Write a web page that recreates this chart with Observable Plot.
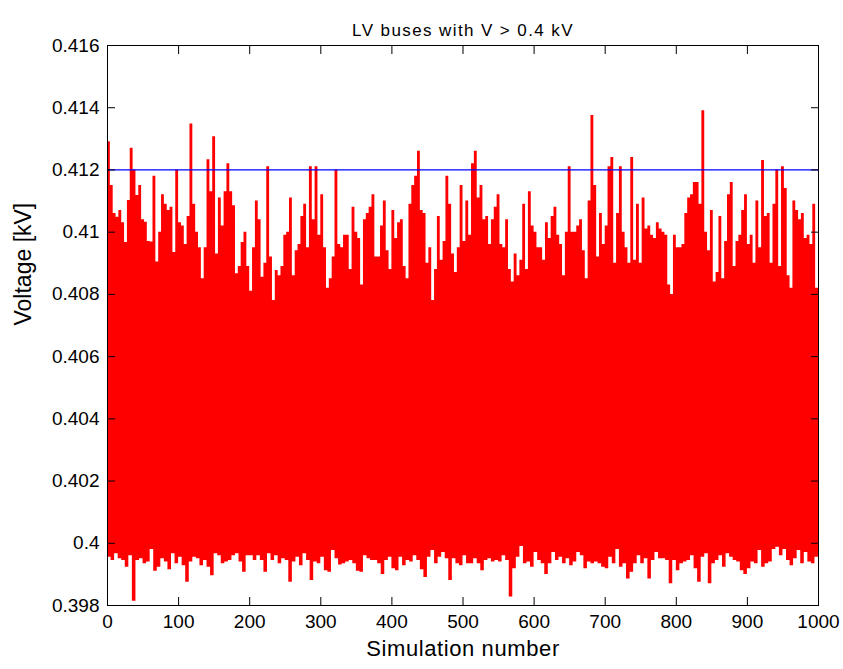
<!DOCTYPE html>
<html>
<head>
<meta charset="utf-8">
<script src="https://cdn.jsdelivr.net/npm/d3@7"></script>
<script src="https://cdn.jsdelivr.net/npm/@observablehq/plot@0.6"></script>
<style>
  html, body { margin: 0; padding: 0; background: #fff; }
</style>
</head>
<body>
<div id="chart"></div>
<script>
const title = "LV buses with V > 0.4 kV";
const xLabel = "Simulation number";
const yLabel = "Voltage [kV]";
const xTicks = [0, 100, 200, 300, 400, 500, 600, 700, 800, 900, 1000];
const yTicks = [0.398, 0.4, 0.402, 0.404, 0.406, 0.408, 0.41, 0.412, 0.414, 0.416];
const xDomain = [0, 1000];
const yDomain = [0.398, 0.416];
const threshold = [0.412];

// Upper envelope of bus voltages (V), one value per block of 4 simulations
const topV = [
412.91,411.5,410.6,410.48,410.7,410.3,409.67,411.02,412.7,412.0,
411.18,411.5,410.4,410.32,409.7,409.68,411.8,409.04,410.0,411.2,
410.9,410.7,410.8,409.35,412.0,410.3,410.2,409.6,410.5,413.48,
410.9,410.0,409.5,408.5,409.5,412.33,411.3,413.07,409.3,411.1,
410.2,411.3,412.2,411.3,410.85,408.66,408.9,409.67,410.0,408.9,
408.1,409.5,411.0,410.4,408.55,409.0,412.1,409.2,407.8,408.77,
408.6,408.9,
409.9,410.0,411.1,408.6,409.4,409.6,410.5,410.9,409.5,412.1,
410.4,412.1,409.9,411.2,409.5,408.2,408.5,409.2,412.0,409.6,
409.5,409.9,409.9,408.8,410.8,410.0,409.8,408.3,410.4,410.6,
410.8,411.2,409.2,409.2,410.2,411.0,409.4,408.8,410.7,409.8,
410.3,410.4,408.9,408.5,410.9,411.5,411.8,412.6,410.7,410.6,
409.0,409.5,407.8,408.8,410.5,409.1,409.7,411.8,410.9,409.3,
408.7,409.5,411.5,
409.7,411.0,409.9,412.2,412.6,411.1,411.5,410.4,410.5,409.6,
410.4,410.8,411.2,409.6,409.5,410.4,408.8,408.4,409.3,408.6,
409.1,410.9,408.8,411.3,410.2,410.0,409.5,409.5,409.1,410.3,
409.8,410.5,410.8,409.9,409.6,408.6,410.0,412.1,410.0,410.0,
410.2,410.4,409.4,408.5,411.0,413.75,411.5,409.2,410.6,409.6,
410.2,412.1,412.4,409.0,410.6,412.1,410.0,409.5,409.0,412.4,
409.1,410.9,409.0,
411.1,410.1,410.2,409.9,409.8,410.3,410.1,410.0,409.9,408.3,
408.0,409.9,409.5,409.5,409.6,410.6,411.1,411.2,411.6,411.6,
410.9,413.9,410.0,409.4,410.7,408.4,408.7,410.5,408.5,409.7,
411.2,411.6,408.9,409.7,409.9,410.7,411.2,409.6,409.9,409.0,
411.0,409.5,412.3,410.5,410.6,409.0,410.9,412.0,408.9,412.1,
411.4,408.6,408.2,411.0,410.7,410.4,410.6,409.8,409.9,409.6,
410.9,408.2
];

// Lower envelope of bus voltages (V), one value per block of 5 simulations
const bottomV = [
399.55,399.45,399.66,399.5,399.45,399.23,399.6,398.14,399.45,399.5,
399.34,399.4,399.8,399.1,399.23,399.5,399.4,399.15,399.66,399.34,
399.55,399.28,398.75,399.4,399.55,399.5,399.28,399.45,399.23,398.96,
399.66,399.6,399.34,399.4,399.45,399.6,399.66,399.4,399.07,399.6,
399.6,399.45,399.6,399.45,399.07,399.66,399.45,399.6,399.34,399.5,
399.45,398.75,399.4,399.55,399.28,399.66,399.45,398.8,399.4,399.34,
399.55,399.12,399.07,399.77,399.5,399.3,
399.34,399.4,399.45,399.34,399.1,399.07,399.6,399.5,399.45,
399.45,399.34,399.0,399.45,399.55,399.18,399.12,399.55,399.28,399.45,
399.4,399.6,399.45,399.15,398.9,399.55,399.77,399.34,399.55,399.7,
399.5,398.8,399.5,399.34,399.28,399.6,399.34,399.34,399.5,399.34,
399.12,399.45,399.5,399.4,399.45,399.4,399.6,399.45,398.27,399.18,
399.55,399.9,399.34,399.4,399.23,399.7,399.45,399.34,399.0,399.34,
399.7,399.45,399.55,399.34,399.5,399.28,
399.4,399.7,399.6,399.18,399.4,399.34,399.4,399.34,399.23,399.18,
399.55,399.34,399.8,399.23,399.34,398.85,399.07,399.34,399.6,399.34,
399.5,398.85,399.45,399.7,399.5,399.5,399.45,398.7,399.45,399.12,
399.34,399.4,399.45,399.6,399.18,398.75,399.55,399.66,398.7,399.34,
399.45,399.6,399.23,399.66,399.55,399.45,399.4,399.12,399.0,399.18,
399.4,399.34,399.77,399.23,399.34,399.4,399.8,399.87,399.6,399.8,
399.45,399.28,399.5,399.77,399.34,399.7,399.4,399.34,399.55
];

function blocks(values) {
  const step = (xDomain[1] - xDomain[0]) / values.length;
  const rows = values.map((v, i) => ({sim: xDomain[0] + i * step, v: v / 1000}));
  rows.push({sim: xDomain[1], v: values[values.length - 1] / 1000});
  return rows;
}
const topData = blocks(topV);
const bottomData = blocks(bottomV);
const mid = (yDomain[0] + yDomain[1]) / 2;

const fmt = d => String(+d.toFixed(3));
const font = "'Liberation Sans', Arial, Helvetica, sans-serif";

const chart = Plot.plot({
  width: 843,
  height: 669,
  marginLeft: 107,
  marginRight: 25,
  marginTop: 45,
  marginBottom: 64,
  style: {fontFamily: font, background: "#fff", color: "#000"},
  x: {domain: xDomain},
  y: {domain: yDomain},
  marks: [
    Plot.areaY(bottomData, {x: "sim", y1: "v", y2: mid, curve: "step-after", fill: "#ff0000"}),
    Plot.areaY(topData, {x: "sim", y1: mid - 0.001, y2: "v", curve: "step-after", fill: "#ff0000"}),
    Plot.ruleY(threshold, {stroke: "#0000ff", strokeWidth: 1.3}),
    Plot.frame({stroke: "#000", strokeWidth: 1}),
    // inward ticks on all four sides
    Plot.axisX({anchor: "bottom", ticks: xTicks, tickSize: 8, dy: -8, tickFormat: () => "", label: null, stroke: "#000"}),
    Plot.axisX({anchor: "top", ticks: xTicks, tickSize: 8, dy: 8, tickFormat: () => "", label: null, stroke: "#000"}),
    Plot.axisY({anchor: "left", ticks: yTicks, tickSize: 8, dx: 8, tickFormat: () => "", label: null, stroke: "#000"}),
    Plot.axisY({anchor: "right", ticks: yTicks, tickSize: 8, dx: -8, tickFormat: () => "", label: null, stroke: "#000"}),
    // tick labels
    Plot.axisX({anchor: "bottom", ticks: xTicks, tickSize: 0, tickPadding: 9, tickFormat: d => String(d), label: null, fontSize: 19, fill: "#000"}),
    Plot.axisY({anchor: "left", ticks: yTicks, tickSize: 0, tickPadding: 8, tickFormat: fmt, label: null, fontSize: 19, fill: "#000"}),
    // titles
    Plot.text([title], {text: d => d, frameAnchor: "top", dy: -22, fontSize: 17, fill: "#000"}),
    Plot.text([xLabel], {text: d => d, frameAnchor: "bottom", dy: 50, fontSize: 22, fill: "#000"}),
    Plot.text([yLabel], {text: d => d, frameAnchor: "left", dx: -84, rotate: -90, fontSize: 23, fill: "#000"})
  ]
});

chart.querySelectorAll("text").forEach(t => {
  if (t.textContent === title) t.style.letterSpacing = "1.4px";
  if (t.textContent === xLabel) t.style.letterSpacing = "0.6px";
});

document.getElementById("chart").appendChild(chart);
</script>
</body>
</html>
